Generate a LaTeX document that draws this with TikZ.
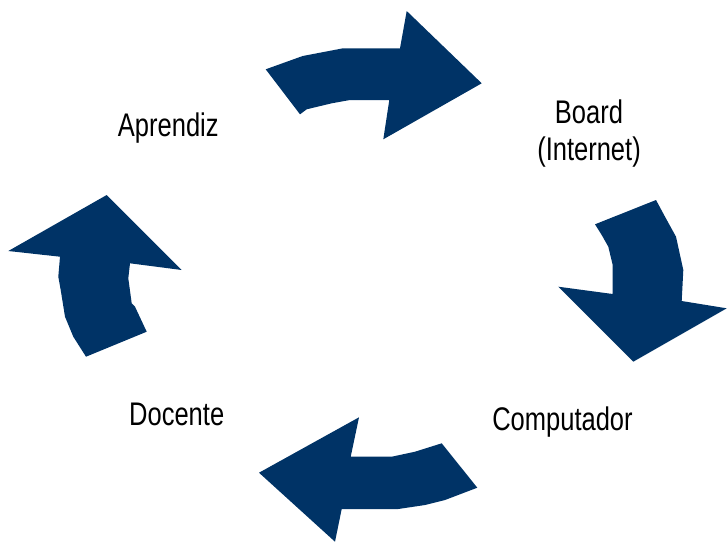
\documentclass[tikz,border=0pt]{standalone}
\usepackage{fontspec}
\setmainfont{Liberation Sans}[FakeStretch=0.78]
\definecolor{navy}{RGB}{0,51,102}
\begin{document}
\begin{tikzpicture}[x=1pt,y=-1pt,
  bigarrow/.style={fill=navy,draw=none},
  lbl/.style={anchor=base,inner sep=0pt,font=\fontsize{32.7}{36.7}\selectfont,align=center}]
\useasboundingbox (0,0) rectangle (727,542);
% top arrow (Aprendiz -> Board)
\fill[bigarrow] (265.7,69.3) -- (302.7,56) -- (343,48.3) -- (400,48.3) -- (406.7,11)
  -- (481.7,83.3) -- (383.3,139.3) -- (389.3,100) -- (350,100) -- (331.7,103.3)
  -- (306.7,109.3) -- (300,114.3) -- cycle;
% right arrow (Board -> Computador)
\fill[bigarrow] (595,224.3) -- (656,200) -- (665,216.7) -- (676,236.7) -- (683.3,270)
  -- (681.7,301) -- (726.7,308.3) -- (633.3,361.7) -- (558.3,286.7) -- (612.7,294)
  -- (612.7,265) -- (608.3,246.7) -- (601.7,235) -- cycle;
% bottom arrow (Computador -> Docente)
\fill[bigarrow] (259,472.7) -- (359,417.3) -- (350.7,456.7) -- (391.7,456.7) -- (415,451.7)
  -- (441.7,443.3) -- (477.3,487.7) -- (445,500) -- (425,505) -- (398.3,509)
  -- (341.7,509) -- (335,541.7) -- cycle;
% left arrow (Docente -> Aprendiz)
\fill[bigarrow] (106.7,195) -- (181.7,270) -- (130,263.3) -- (128.3,278.3) -- (131.7,303.3)
  -- (135,306.7) -- (146.7,331.7) -- (86,356.7) -- (73.3,336.7) -- (65,316.7)
  -- (60.7,290) -- (58.3,276.7) -- (60,256.7) -- (8.3,251) -- cycle;
% labels
\node[lbl] (aprendiz) at (168.3,136.7) {Aprendiz};
\node[lbl] (board) at (589,160) {Board\\(Internet)};
\node[lbl] (docente) at (176.7,425) {Docente};
\node[lbl] (computador) at (562.5,430) {Computador};
\end{tikzpicture}
\end{document}
